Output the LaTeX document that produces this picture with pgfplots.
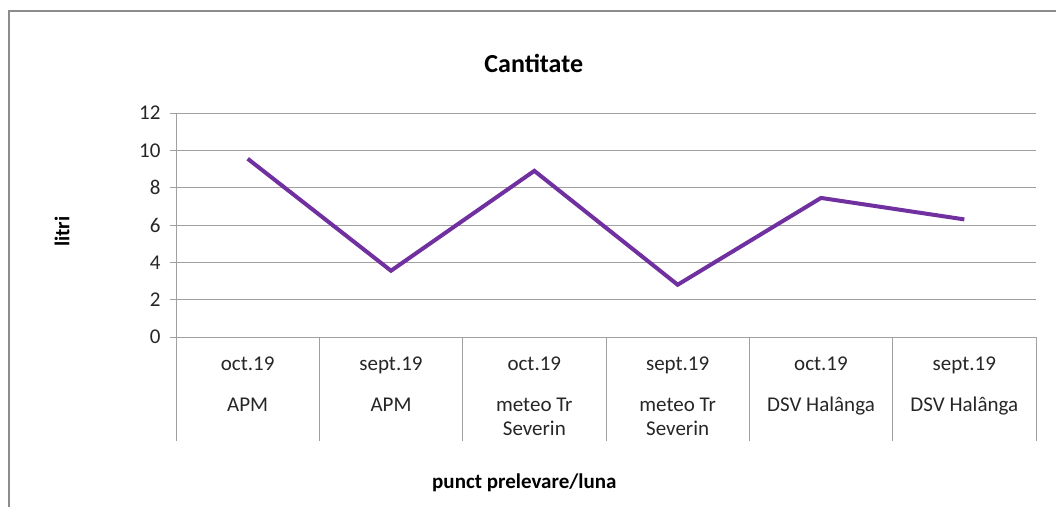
\documentclass[border=0pt]{standalone}
\usepackage{pgfplots}
\pgfplotsset{compat=1.18}
\usepackage{fontspec}
\setmainfont{Carlito}
\definecolor{linepurple}{HTML}{7030A0}
\definecolor{gridgray}{HTML}{A0A0A0}
\definecolor{framegray}{HTML}{8C8C8C}
\begin{document}
\begin{tikzpicture}
\useasboundingbox (0pt,0pt) rectangle (1056pt,506pt);
\draw[framegray,line width=1.6pt] (9pt,-20pt) -- (9pt,495pt) -- (1080pt,495pt);
\begin{axis}[
  at={(176pt,169pt)}, anchor=south west,
  scale only axis, width=860pt, height=224pt,
  xmin=-0.5, xmax=5.5, ymin=0, ymax=12,
  ytick={0,2,...,12},
  ymajorgrids, grid style={gridgray,line width=0.9pt},
  axis line style={gridgray,line width=0.9pt},
  axis x line*=bottom, axis y line*=left,
  separate axis lines,
  y axis line style={shorten <=-104pt},
  tick align=outside,
  major tick length=6pt,
  ytick style={gridgray,line width=0.9pt},
  xtick={0,1,2,3,4,5},
  xtick style={draw=none},
  xticklabels={
    oct.19\\[17pt]APM,
    sept.19\\[17pt]APM,
    oct.19\\[17pt]meteo Tr\\Severin,
    sept.19\\[17pt]meteo Tr\\Severin,
    oct.19\\[17pt]DSV Halânga,
    sept.19\\[17pt]DSV Halânga},
  xticklabel style={anchor=north, yshift=-10pt, align=center},
  extra x ticks={-0.5,0.5,1.5,2.5,3.5,4.5,5.5},
  extra x tick labels={},
  extra x tick style={xtick style={draw=gridgray,line width=0.9pt}, major tick length=104pt},
  ticklabel style={font=\fontsize{21pt}{24pt}\selectfont, text=black!85},
  /pgf/number format/assume math mode=true,
  yticklabel style={xshift=-6pt},
  title={Cantitate},
  title style={font=\fontsize{26pt}{30pt}\selectfont\bfseries, at={(axis description cs:0.416,1.196)}, anchor=center},
  xlabel={punct prelevare/luna},
  xlabel style={font=\fontsize{21pt}{24pt}\selectfont\bfseries, at={(axis description cs:0.405,-0.65)}, anchor=center},
  ylabel={litri},
  ylabel style={font=\fontsize{21pt}{24pt}\selectfont\bfseries, at={(axis description cs:-0.1325,0.47)}, anchor=center, rotate=0},
  clip=false,
]
\addplot[linepurple, line width=4pt, line join=miter] coordinates {
  (0,9.55) (1,3.55) (2,8.9) (3,2.8) (4,7.45) (5,6.3)
};
\end{axis}
\end{tikzpicture}
\end{document}
